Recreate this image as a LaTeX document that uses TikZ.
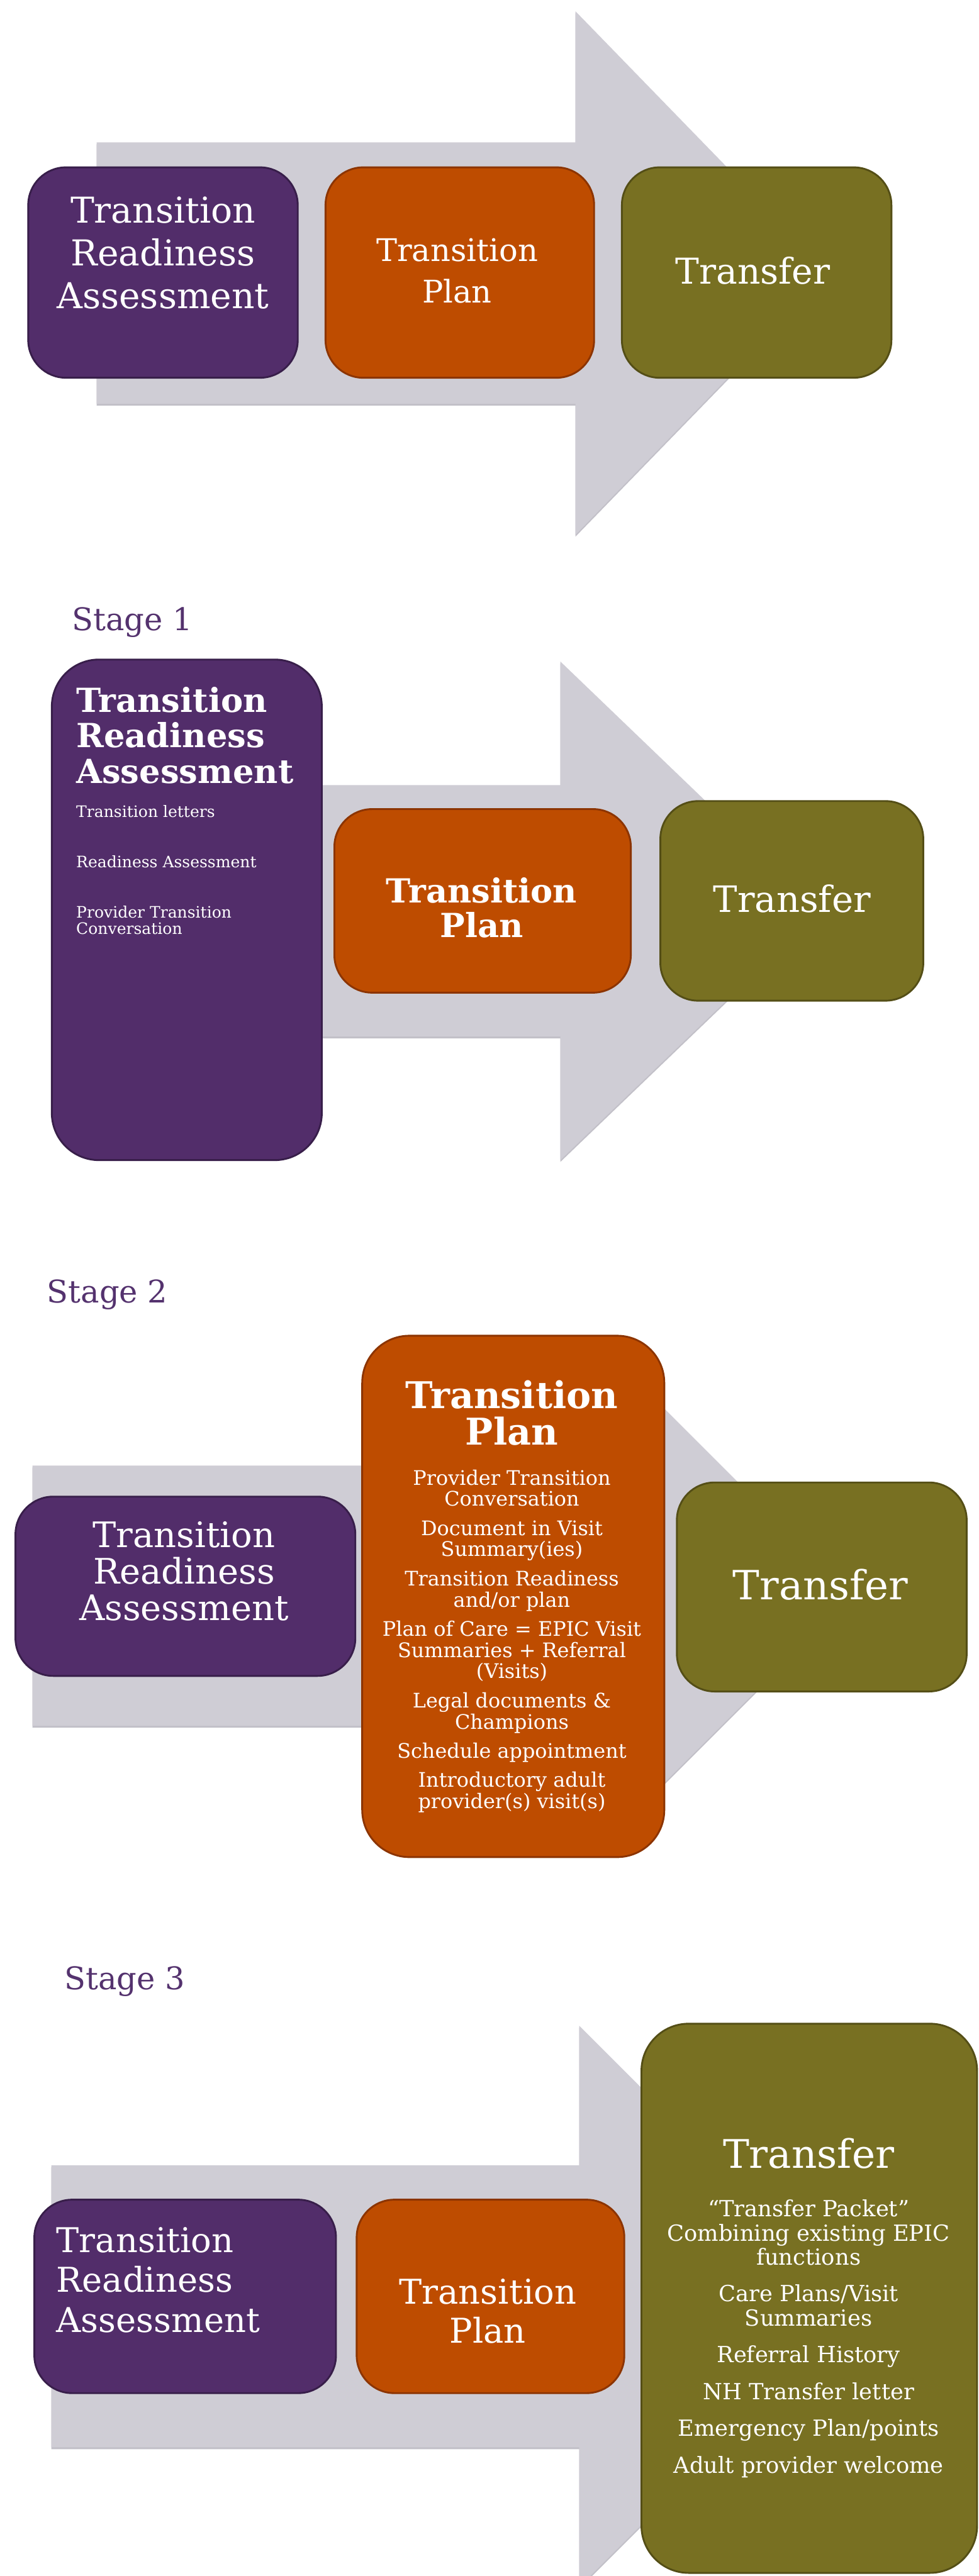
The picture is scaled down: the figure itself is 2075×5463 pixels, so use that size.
\documentclass[tikz,border=0pt]{standalone}
\usepackage{fontspec}
\setmainfont{DejaVu Serif}
\usetikzlibrary{positioning}
\definecolor{raFill}{RGB}{82,45,106}
\definecolor{raLine}{RGB}{56,30,74}
\definecolor{tpFill}{RGB}{190,76,0}
\definecolor{tpLine}{RGB}{140,52,0}
\definecolor{tfFill}{RGB}{120,112,34}
\definecolor{tfLine}{RGB}{84,78,22}
\definecolor{arrowGray}{RGB}{207,205,213}
\definecolor{arrowDark}{RGB}{194,192,200}
\definecolor{stageCol}{RGB}{84,50,110}
\newcommand{\fs}[2]{\fontsize{#1pt}{#2pt}\selectfont}
\lineskiplimit=-100pt

\begin{document}
\begin{tikzpicture}[
        x = 0.01cm, y = -0.01cm,
        node distance = 0.55cm,
        box/.style = {draw, line width=1.1pt, rounded corners=0.8cm, inner sep=0pt},
        ra/.style = {box, fill=raFill, draw=raLine},
        tp/.style = {box, fill=tpFill, draw=tpLine},
        tf/.style = {box, fill=tfFill, draw=tfLine},
        tall/.style = {rounded corners=1cm},
        boxsize/.style 2 args = {minimum width=#1cm, minimum height=#2cm},
        txt/.style = {text=white, align=center, inner sep=0pt},
        ltxt/.style = {text=white, align=left, inner sep=0pt, anchor=west},
        stage/.style = {text=stageCol, anchor=base west, inner sep=0pt, font=\fs{18.8}{22}},
        bigarrow/.style = {fill=arrowGray},
        arrowshadow/.style = {fill=arrowDark, yshift=-0.04cm}]
        \useasboundingbox (0,0) rectangle (2075,5463);
        \clip (0,0) rectangle (2075,5463);

        % OVERVIEW
        % arrow
        \fill[arrowshadow] (205,302) -- (1220,302) -- (1220,24) -- (1759,579) -- (1220,1134) -- (1220,856) -- (205,856) -- cycle;
        \fill[bigarrow] (205,302) -- (1220,302) -- (1220,24) -- (1759,579) -- (1220,1134) -- (1220,856) -- (205,856) -- cycle;
        % boxes
        \node[ra, boxsize={5.71}{4.46}] (RA0) at (345.5,578) {};
        \node[tp, boxsize={5.69}{4.46}, right=of RA0] (TP0) {};
        \node[tf, boxsize={5.71}{4.46}, right=of TP0] (TF0) {};
        % texts
        \node[txt, font=\fs{21.5}{25.75}] (RA0txt) at (345.5,536) {Transition\\Readiness\\Assessment};
        \node[txt, font=\fs{18.8}{24.8}] (TP0txt) at (969,574.5) {Transition\\Plan};
        \node[txt, font=\fs{21.5}{24}] (TF0txt) at (1596,573.5) {Transfer};

        % STAGE 1
        \node[stage] (S1) at (152,1337) {Stage 1};
        \fill[arrowshadow] (400,1665) -- (1188,1665) -- (1188,1403) -- (1738,1931.5) -- (1188,2460) -- (1188,2198) -- (400,2198) -- cycle;
        \fill[bigarrow] (400,1665) -- (1188,1665) -- (1188,1403) -- (1738,1931.5) -- (1188,2460) -- (1188,2198) -- (400,2198) -- cycle;
        \node[ra, tall, boxsize={5.72}{10.61}] (RA1) at (396,1929.5) {};
        \node[tp, boxsize={6.28}{3.89}] (TP1) at (1023,1910.5) {};
        \node[tf, boxsize={5.57}{4.23}] (TF1) at (1678.5,1910.5) {};
        \node[ltxt, font=\bfseries\fs{20}{21.33}] (RA1txt) at (161,1559.3) {Transition\\Readiness\\Assessment};
        \node[ltxt, font=\fs{9.5}{9.7}] (RA1list) at (161,1844.8) {Transition letters\\[20.7pt]Readiness Assessment\\[20.7pt]Provider Transition\\Conversation};
        \node[txt, font=\bfseries\fs{20}{21}] (TP1txt) at (1021,1925.3) {Transition\\Plan};
        \node[txt, font=\fs{21.9}{24}] (TF1txt) at (1679,1905.8) {Transfer};

        % STAGE 2
        \node[stage] (S2) at (99,2763) {Stage 2};
        \fill[arrowshadow] (69,3108) -- (1265,3108) -- (1265,2844) -- (1805,3384) -- (1265,3924) -- (1265,3660) -- (69,3660) -- cycle;
        \fill[bigarrow] (69,3108) -- (1265,3108) -- (1265,2844) -- (1805,3384) -- (1265,3924) -- (1265,3660) -- (69,3660) -- cycle;
        \node[ra, boxsize={7.20}{3.80}] (RA2) at (393,3364) {};
        \node[tp, tall, boxsize={6.40}{11.05}] (TP2) at (1088,3385.5) {};
        \node[tf, boxsize={6.14}{4.43}] (TF2) at (1742,3365.5) {};
        \node[txt, font=\fs{21.2}{22.05}] (RA2txt) at (390,3332.2) {Transition\\Readiness\\Assessment};
        \node[txt, font=\bfseries\fs{22.25}{21.9}] (TP2txt) at (1085,2996.8) {Transition\\Plan};
        \node[txt, font=\fs{12.1}{12.8}] (TP2list) at (1085,3480.4) {Provider Transition\\Conversation\\[4.8pt]
            Document in Visit\\Summary(ies)\\[4.8pt]
            Transition Readiness\\and/or plan\\[4.8pt]
            Plan of Care = EPIC Visit\\Summaries + Referral\\(Visits)\\[4.8pt]
            Legal documents \&\\Champions\\[4.8pt]
            Schedule appointment\\[4.8pt]
            Introductory adult\\provider(s) visit(s)};
        \node[txt, font=\fs{24.3}{26}] (TF2txt) at (1739,3360.5) {Transfer};

        % STAGE 3
        \node[stage] (S3) at (136,4219) {Stage 3};
        \fill[arrowshadow] (109,4592) -- (1228,4592) -- (1228,4296) -- (1823,4891) -- (1228,5486) -- (1228,5190) -- (109,5190) -- cycle;
        \fill[bigarrow] (109,4592) -- (1228,4592) -- (1228,4296) -- (1823,4891) -- (1228,5486) -- (1228,5190) -- (109,5190) -- cycle;
        \node[ra, boxsize={6.39}{4.10}] (RA3) at (392.5,4870) {};
        \node[tp, boxsize={5.67}{4.10}, right=0.4cm of RA3] (TP3) {};
        \node[tf, tall, boxsize={7.11}{11.64}] (TF3) at (1715.5,4874) {};
        \node[ltxt, font=\fs{20.6}{24}] (RA3txt) at (119,4835) {Transition\\Readiness\\Assessment};
        \node[txt, font=\fs{20.6}{23.6}] (TP3txt) at (1034,4901) {Transition\\Plan};
        \node[txt, font=\fs{23.8}{26}] (TF3txt) at (1714,4567) {Transfer};
        \node[txt, font=\fs{13.4}{14.5}] (TF3list) at (1714,4960) {“Transfer Packet”\\Combining existing EPIC\\functions\\[7.7pt]
            Care Plans/Visit\\Summaries\\[7.7pt]
            Referral History\\[7.7pt]
            NH Transfer letter\\[7.7pt]
            Emergency Plan/points\\[7.7pt]
            Adult provider welcome};
\end{tikzpicture}
\end{document}
